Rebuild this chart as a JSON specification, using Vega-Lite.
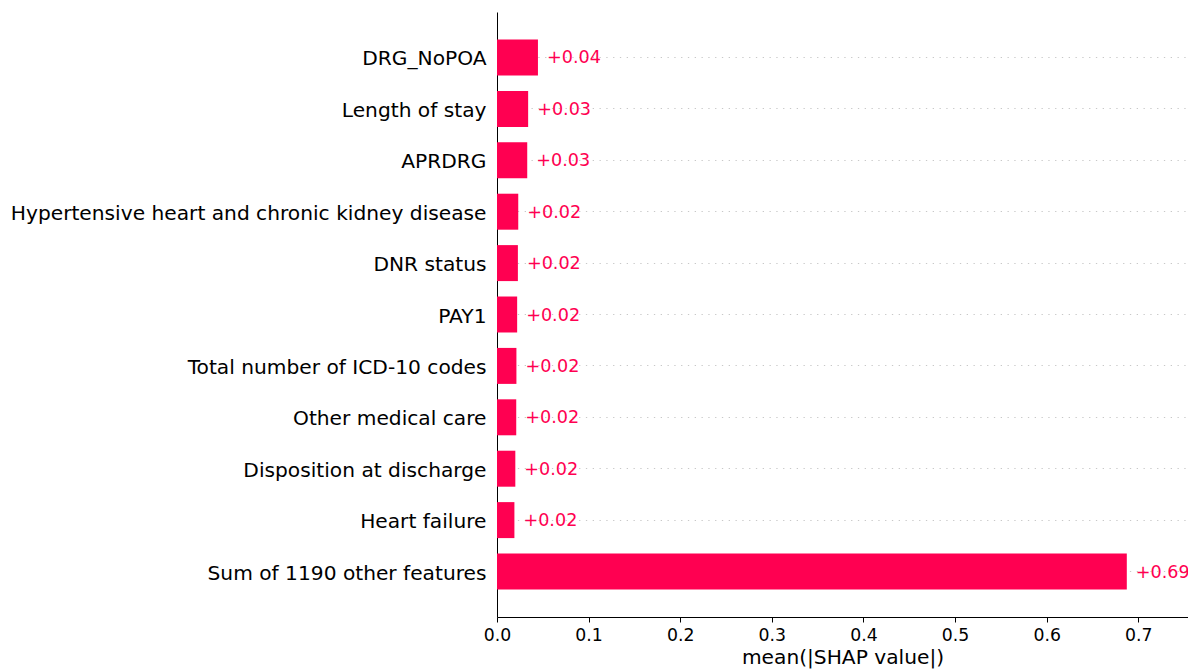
{
  "$schema": "https://vega.github.io/schema/vega-lite/v6.json",
  "autosize": "none",
  "width": 691,
  "height": 605,
  "padding": {"left": 497, "top": 12, "right": 0, "bottom": 52},
  "background": "white",
  "config": {
    "view": {"stroke": null},
    "font": "DejaVu Sans"
  },
  "data": {
    "values": [
      {"feature": "DRG_NoPOA", "value": 0.0447, "label": "+0.04"},
      {"feature": "Length of stay", "value": 0.0340, "label": "+0.03"},
      {"feature": "APRDRG", "value": 0.0330, "label": "+0.03"},
      {"feature": "Hypertensive heart and chronic kidney disease", "value": 0.0232, "label": "+0.02"},
      {"feature": "DNR status", "value": 0.0228, "label": "+0.02"},
      {"feature": "PAY1", "value": 0.0220, "label": "+0.02"},
      {"feature": "Total number of ICD-10 codes", "value": 0.0212, "label": "+0.02"},
      {"feature": "Other medical care", "value": 0.0210, "label": "+0.02"},
      {"feature": "Disposition at discharge", "value": 0.0200, "label": "+0.02"},
      {"feature": "Heart failure", "value": 0.0190, "label": "+0.02"},
      {"feature": "Sum of 1190 other features", "value": 0.6875, "label": "+0.69"}
    ]
  },
  "encoding": {
    "y": {
      "field": "feature",
      "type": "nominal",
      "sort": null,
      "scale": {"paddingInner": 0.3, "paddingOuter": 0.535},
      "axis": {
        "title": null,
        "tickSize": 0,
        "labelPadding": 11,
        "labelOffset": 2,
        "labelFontSize": 20.2,
        "labelColor": "#000000",
        "labelFont": "DejaVu Sans",
        "domainColor": "#000000",
        "domainWidth": 1,
        "grid": true,
        "bandPosition": 0.5,
        "gridDash": [1.3, 5.5],
        "gridColor": "#c8c8c8",
        "gridWidth": 1,
        "labelLimit": 1000
      }
    }
  },
  "layer": [
    {
      "mark": {"type": "bar", "color": "#ff0051"},
      "encoding": {
        "x": {
          "field": "value",
          "type": "quantitative",
          "scale": {"domain": [0, 0.7543], "nice": false, "zero": true},
          "axis": {
            "title": "mean(|SHAP value|)",
            "titleFontSize": 20.2,
            "titleFontWeight": "normal",
            "titleColor": "#000000",
            "titleFont": "DejaVu Sans",
            "titlePadding": 4,
            "values": [0, 0.1, 0.2, 0.3, 0.4, 0.5, 0.6, 0.7],
            "format": ".1f",
            "grid": false,
            "tickSize": 5,
            "tickColor": "#000000",
            "domainColor": "#000000",
            "labelFontSize": 17.3,
            "labelColor": "#000000",
            "labelFont": "DejaVu Sans",
            "labelPadding": 4,
            "labelFlush": false
          }
        }
      }
    },
    {
      "mark": {"type": "text", "align": "left", "baseline": "middle", "dx": 9, "dy": 1, "fontSize": 17.6, "color": "#ff0051", "font": "DejaVu Sans"},
      "encoding": {
        "x": {"field": "value", "type": "quantitative"},
        "text": {"field": "label"}
      }
    }
  ]
}
